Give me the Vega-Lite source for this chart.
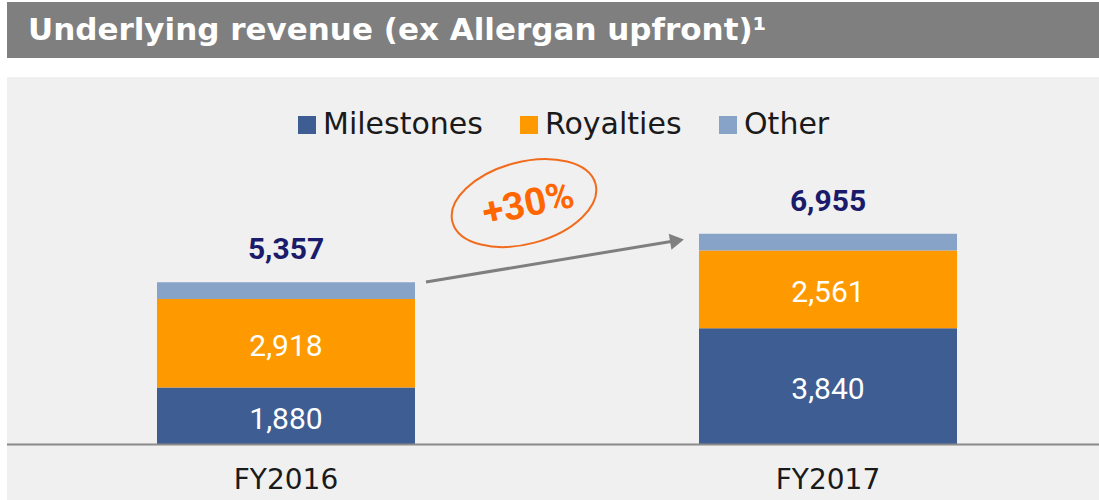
{
  "$schema": "https://vega.github.io/schema/vega-lite/v6.json",
  "background": "white",
  "padding": {"left": 6, "top": 2, "right": 0, "bottom": 0},
  "spacing": 19,
  "config": {"view": {"stroke": null}},
  "datasets": {
    "rev": [
      {"year": "FY2016", "type": "Milestones", "value": 1880, "k": 1},
      {"year": "FY2016", "type": "Royalties", "value": 2918, "k": 2},
      {"year": "FY2016", "type": "Other", "value": 559, "k": 3},
      {"year": "FY2017", "type": "Milestones", "value": 3840, "k": 1},
      {"year": "FY2017", "type": "Royalties", "value": 2561, "k": 2},
      {"year": "FY2017", "type": "Other", "value": 554, "k": 3}
    ],
    "banner": [{"t": "Underlying revenue (ex Allergan upfront)¹"}],
    "note": [{"t": "+30%"}]
  },
  "vconcat": [
    {
      "width": 1093,
      "height": 56,
      "view": {"fill": "#7f7f7f", "stroke": null},
      "data": {"name": "banner"},
      "mark": {"type": "text", "color": "white", "font": "DejaVu Sans", "fontWeight": "bold", "fontSize": 31, "align": "left", "baseline": "alphabetic"},
      "encoding": {
        "x": {"value": 21},
        "y": {"value": 38},
        "text": {"field": "t", "type": "nominal"}
      }
    },
    {
      "width": 1093,
      "height": 423,
      "view": {"fill": "#f0f0f0", "stroke": null},
      "data": {"name": "rev"},
      "layer": [
        {
          "mark": {"type": "bar"},
          "encoding": {
            "x": {
              "field": "year", "type": "nominal",
              "scale": {"domain": ["FY2016", "FY2017"], "range": [150, 950], "paddingInner": 0.524, "paddingOuter": 0},
              "axis": {"title": null, "orient": "bottom", "offset": -55, "domain": false, "ticks": false, "grid": false, "labelAngle": 0, "labelFontSize": 28, "labelFont": "DejaVu Sans", "labelColor": "#1a1a1a", "labelPadding": 21}
            },
            "y": {"field": "value", "type": "quantitative", "stack": "zero", "scale": {"domain": [-1832, 12129], "nice": false, "zero": false}, "axis": null},
            "color": {
              "field": "type", "type": "nominal",
              "scale": {"domain": ["Milestones", "Royalties", "Other"], "range": ["#3e5d92", "#ff9900", "#87a3c8"]},
              "legend": {"orient": "none", "legendX": 285, "legendY": 108, "direction": "horizontal", "title": null, "symbolType": "square", "symbolSize": 324, "symbolStrokeWidth": 0, "symbolOpacity": 1, "labelFontSize": 30, "labelFont": "DejaVu Sans", "labelColor": "#1a1a1a", "labelOffset": 1, "columnPadding": 31, "labelLimit": 400}
            },
            "order": {"field": "k", "type": "quantitative"}
          }
        },
        {
          "transform": [{"filter": "datum.type !== 'Other'"}],
          "mark": {"type": "text", "color": "white", "font": "Roboto", "fontSize": 30, "baseline": "middle", "align": "center", "dy": 4},
          "encoding": {
            "x": {"field": "year", "type": "nominal"},
            "y": {"field": "value", "type": "quantitative", "stack": "zero", "bandPosition": 0.5, "axis": null},
            "detail": {"field": "type", "type": "nominal"},
            "order": {"field": "k", "type": "quantitative"},
            "text": {"field": "value", "type": "quantitative", "format": ","}
          }
        },
        {
          "transform": [{"aggregate": [{"op": "sum", "field": "value", "as": "total"}], "groupby": ["year"]}],
          "mark": {"type": "text", "color": "#1b1b6b", "font": "Roboto", "fontWeight": "bold", "fontSize": 30, "baseline": "alphabetic", "align": "center", "dy": -23},
          "encoding": {
            "x": {"field": "year", "type": "nominal"},
            "y": {"field": "total", "type": "quantitative", "axis": null},
            "text": {"field": "total", "type": "quantitative", "format": ","}
          }
        },
        {
          "data": {"name": "note"},
          "mark": {"type": "rule", "color": "#8a8a8a", "strokeWidth": 2},
          "encoding": {
            "y": {"datum": 0, "type": "quantitative", "axis": null}
          }
        },
        {
          "data": {"name": "note"},
          "mark": {"type": "rule", "color": "#7f7f7f", "strokeWidth": 3},
          "encoding": {
            "x": {"datum": "FY2016", "type": "nominal", "bandPosition": 1.0426},
            "x2": {"datum": "FY2017", "bandPosition": -0.1085},
            "y": {"datum": 5363, "type": "quantitative", "axis": null},
            "y2": {"datum": 6700}
          }
        },
        {
          "data": {"name": "note"},
          "mark": {"type": "point", "shape": "triangle-right", "filled": true, "color": "#7f7f7f", "size": 260, "angle": -9.4, "opacity": 1},
          "encoding": {
            "x": {"datum": "FY2017", "type": "nominal", "bandPosition": -0.0853},
            "y": {"datum": 6729, "type": "quantitative", "axis": null}
          }
        },
        {
          "data": {"name": "note"},
          "mark": {"type": "point", "shape": "M -1 0 A 1 0.554 0 1 1 1 0 A 1 0.554 0 1 1 -1 0 Z", "filled": false, "color": "#f26b1d", "strokeWidth": 2, "size": 21904, "angle": -15, "opacity": 1},
          "encoding": {
            "x": {"datum": "FY2016", "type": "nominal", "bandPosition": 1.4225},
            "y": {"datum": 7970, "type": "quantitative", "axis": null}
          }
        },
        {
          "data": {"name": "note"},
          "mark": {"type": "text", "color": "#ff6600", "font": "Roboto", "fontWeight": "bold", "fontSize": 38, "angle": -12, "align": "center", "baseline": "middle"},
          "encoding": {
            "x": {"datum": "FY2016", "type": "nominal", "bandPosition": 1.44},
            "y": {"datum": 7900, "type": "quantitative", "axis": null},
            "text": {"field": "t", "type": "nominal"}
          }
        }
      ]
    }
  ]
}
